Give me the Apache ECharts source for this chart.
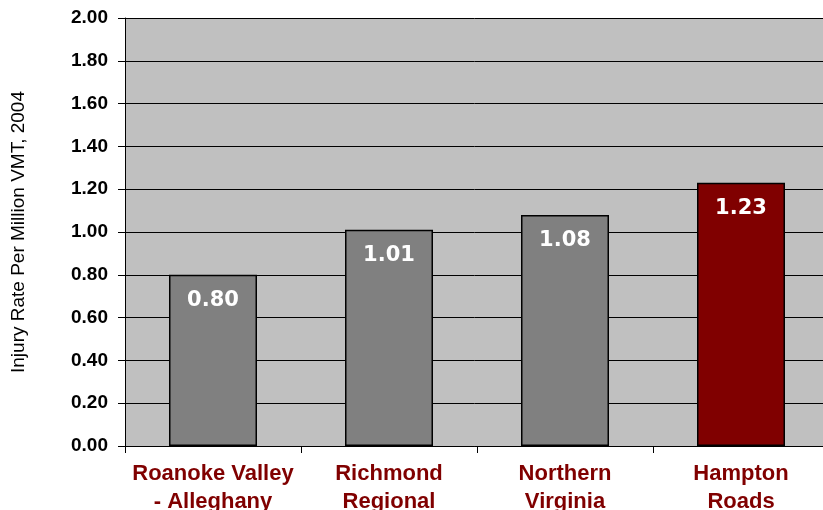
<!DOCTYPE html>
<html>
<head>
<meta charset="utf-8">
<script src="https://cdn.jsdelivr.net/npm/echarts@6/dist/echarts.min.js"></script>
<style>
  html, body { margin: 0; padding: 0; background: #fff; }
  #chart { width: 823px; height: 510px; }
</style>
</head>
<body>
<div id="chart"></div>
<script>
  var regions = ['Roanoke Valley\n- Alleghany', 'Richmond\nRegional', 'Northern\nVirginia', 'Hampton\nRoads'];
  var injuryRates = [0.80, 1.01, 1.08, 1.23];
  var barColors = ['#808080', '#808080', '#808080', '#800000'];

  var myChart = echarts.init(document.getElementById('chart'));
  var option = {
    animation: false,
    backgroundColor: '#ffffff',
    grid: {
      top: 18,
      bottom: 64,
      left: 125,
      right: -6,
      outerBoundsMode: 'none',
      containLabel: false,
      backgroundColor: '#C0C0C0',
      show: true,
      borderWidth: 0
    },
    xAxis: {
      type: 'category',
      data: regions,
      axisLine: { lineStyle: { color: '#000', width: 1 } },
      axisTick: { show: true, length: 7, alignWithLabel: false, lineStyle: { color: '#000' } },
      axisLabel: {
        interval: 0,
        color: '#800000',
        fontFamily: 'Liberation Sans, Arial',
        fontWeight: 'bold',
        fontSize: 22,
        lineHeight: 28,
        margin: 14
      },
      splitLine: { show: false }
    },
    yAxis: {
      type: 'value',
      min: 0,
      max: 2,
      interval: 0.2,
      name: 'Injury Rate Per Million VMT, 2004',
      nameLocation: 'middle',
      nameGap: 97,
      nameTextStyle: {
        color: '#000',
        fontFamily: 'Liberation Sans, Arial',
        fontSize: 19
      },
      axisLine: { show: true, lineStyle: { color: '#000' } },
      axisTick: { show: true, length: 7, lineStyle: { color: '#000' } },
      axisLabel: {
        color: '#000',
        fontFamily: 'Liberation Sans, Arial',
        fontWeight: 'bold',
        fontSize: 19,
        margin: 17,
        formatter: function (v) { return v.toFixed(2); }
      },
      splitLine: { show: true, lineStyle: { color: '#000', width: 1 } }
    },
    series: [{
      type: 'bar',
      data: injuryRates,
      barWidth: 88,
      itemStyle: {
        borderColor: '#000',
        borderWidth: 1.5,
        color: function (params) {
          return barColors[params.dataIndex];
        }
      },
      label: {
        show: true,
        position: 'insideTop',
        distance: 15,
        color: '#fff',
        fontFamily: 'DejaVu Sans',
        fontWeight: 'bold',
        fontSize: 21,
        formatter: function (p) { return p.value.toFixed(2); }
      }
    }]
  };
  myChart.setOption(option);
</script>
</body>
</html>
